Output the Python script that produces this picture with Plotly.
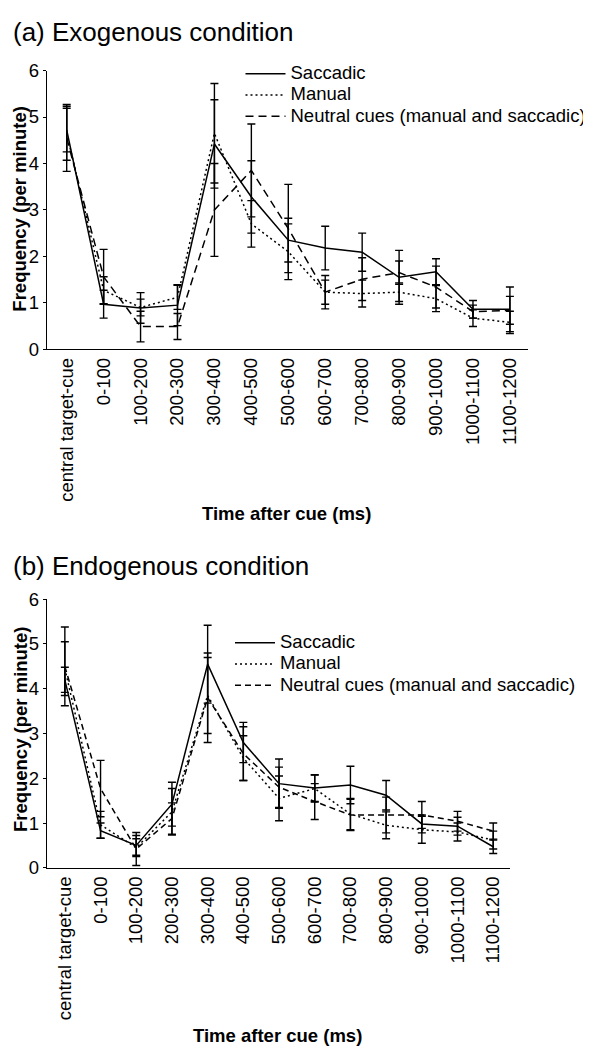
import plotly.graph_objects as go

categories = ["central target-cue", "0-100", "100-200", "200-300", "300-400", "400-500",
              "500-600", "600-700", "700-800", "800-900", "900-1000", "1000-1100", "1100-1200"]

# (a) Exogenous condition
exo_saccadic = [4.72, 0.97, 0.89, 0.95, 4.42, 3.28, 2.35, 2.18, 2.09, 1.55, 1.67, 0.86, 0.86]
exo_saccadic_err = [0.47, 0.30, 0.33, 0.44, 0.95, 0.78, 0.47, 0.47, 0.41, 0.58, 0.28, 0.19, 0.48]
exo_manual = [4.65, 1.27, 0.90, 1.12, 4.65, 2.70, 2.10, 1.23, 1.20, 1.23, 1.09, 0.67, 0.58]
exo_manual_err = [0.58, 0.29, 0.18, 0.26, 1.07, 0.50, 0.60, 0.26, 0.29, 0.20, 0.28, 0.18, 0.24]
exo_neutral = [4.55, 1.56, 0.49, 0.49, 3.00, 3.85, 2.60, 1.23, 1.51, 1.65, 1.34, 0.81, 0.84]
exo_neutral_err = [0.72, 0.59, 0.33, 0.28, 1.00, 1.00, 0.95, 0.36, 0.46, 0.25, 0.45, 0.14, 0.30]

# (b) Endogenous condition
endo_saccadic = [4.20, 0.83, 0.50, 1.42, 4.55, 2.80, 1.88, 1.78, 1.85, 1.62, 0.98, 0.93, 0.47]
endo_saccadic_err = [0.28, 0.17, 0.22, 0.49, 0.87, 0.45, 0.55, 0.30, 0.42, 0.33, 0.20, 0.20, 0.15]
endo_manual = [4.45, 0.96, 0.45, 1.25, 3.85, 2.45, 1.55, 1.77, 1.20, 0.95, 0.85, 0.80, 0.62]
endo_manual_err = [0.60, 0.30, 0.20, 0.52, 0.85, 0.50, 0.50, 0.30, 0.35, 0.30, 0.30, 0.20, 0.20]
endo_neutral = [4.50, 1.77, 0.42, 1.10, 3.80, 2.55, 1.80, 1.48, 1.18, 1.18, 1.18, 1.04, 0.82]
endo_neutral_err = [0.88, 0.63, 0.37, 0.35, 1.00, 0.60, 0.45, 0.40, 0.35, 0.40, 0.30, 0.22, 0.18]

series_names = ["Saccadic", "Manual", "Neutral cues (manual and saccadic)"]

W, H = 591, 1057
OFF = 8  # default body margin of the html page
FONT = "Liberation Sans, Arial, Helvetica, sans-serif"
TXT = 18.5

fig = go.Figure()


def add_panel(vals, errs, dashes, xa, ya, legend):
    for name, y, e, d in zip(series_names, vals, errs, dashes):
        fig.add_trace(go.Scatter(
            x=categories, y=y, name='<span style="font-size:18.5px">' + name + '</span>',
            mode="lines", xaxis=xa, yaxis=ya, legend=legend,
            line=dict(color="black", width=1.5, dash=d),
            error_y=dict(type="data", array=e, visible=True, color="black",
                         thickness=1.4, width=4),
        ))


add_panel([exo_saccadic, exo_manual, exo_neutral],
          [exo_saccadic_err, exo_manual_err, exo_neutral_err],
          ["solid", "2px,3px", "8px,5px"], "x", "y", "legend")
add_panel([endo_saccadic, endo_manual, endo_neutral],
          [endo_saccadic_err, endo_manual_err, endo_neutral_err],
          ["solid", "2px,3px", "6px,4px"], "x2", "y2", "legend2")


def px_x(p):
    return (p - OFF) / W


def px_y(p):
    return 1 - (p - OFF) / H


axis_common = dict(showline=True, linecolor="black", linewidth=1.4, showgrid=False,
                   zeroline=False, tickfont=dict(family=FONT, size=TXT, color="black"))

fig.update_layout(
    width=W, height=H,
    margin=dict(l=0, r=0, t=0, b=0),
    paper_bgcolor="white", plot_bgcolor="white",
    font=dict(family=FONT, color="black"),
    xaxis=dict(domain=[px_x(47), px_x(528)], anchor="y", range=[-0.533, 12.49],
               tickangle=-90, ticks="", type="category", **axis_common),
    yaxis=dict(domain=[px_y(345), px_y(60.6)], anchor="x", range=[0, 6],
               tickvals=[0, 1, 2, 3, 4, 5, 6], ticks="outside", ticklen=3, tickwidth=1.4,
               tickcolor="black", **axis_common),
    xaxis2=dict(domain=[px_x(47), px_x(510)], anchor="y2", range=[-0.5, 12.47],
                tickangle=-90, ticks="", type="category", **axis_common),
    yaxis2=dict(domain=[px_y(874), px_y(600)], anchor="x2", range=[0, 6],
                tickvals=[0, 1, 2, 3, 4, 5, 6], ticks="outside", ticklen=3, tickwidth=1.4,
                tickcolor="black", **axis_common),
    legend=dict(x=px_x(240.5), y=px_y(48), xanchor="left", yanchor="top",
                bgcolor="rgba(0,0,0,0)", borderwidth=0, itemwidth=40,
                font=dict(family=FONT, size=14, color="black")),
    legend2=dict(x=px_x(230), y=px_y(628.5), xanchor="left", yanchor="top",
                 bgcolor="rgba(0,0,0,0)", borderwidth=0, itemwidth=40,
                 font=dict(family=FONT, size=14, color="black")),
)

annotations = [
    dict(text="(a) Exogenous condition", x=px_x(11.7), y=px_y(21), xanchor="left", yanchor="middle",
         font=dict(size=26)),
    dict(text="(b) Endogenous condition", x=px_x(11.7), y=px_y(566), xanchor="left", yanchor="middle",
         font=dict(size=26)),
    dict(text="<b>Frequency (per minute)</b>", x=px_x(20), y=px_y(201.5), textangle=-90,
         xanchor="center", yanchor="middle", font=dict(size=TXT)),
    dict(text="<b>Frequency (per minute)</b>", x=px_x(20), y=px_y(732.5), textangle=-90,
         xanchor="center", yanchor="middle", font=dict(size=TXT)),
    dict(text="<b>Time after cue (ms)</b>", x=px_x(286.7), y=px_y(513), xanchor="center",
         yanchor="middle", font=dict(size=TXT)),
    dict(text="<b>Time after cue (ms)</b>", x=px_x(277), y=px_y(1045), xanchor="center",
         yanchor="middle", font=dict(size=TXT)),
]
for a in annotations:
    a.update(xref="paper", yref="paper", showarrow=False, borderpad=0)
    a["font"].update(family=FONT, color="black")
fig.update_layout(annotations=annotations)

fig.write_html("out.html")
